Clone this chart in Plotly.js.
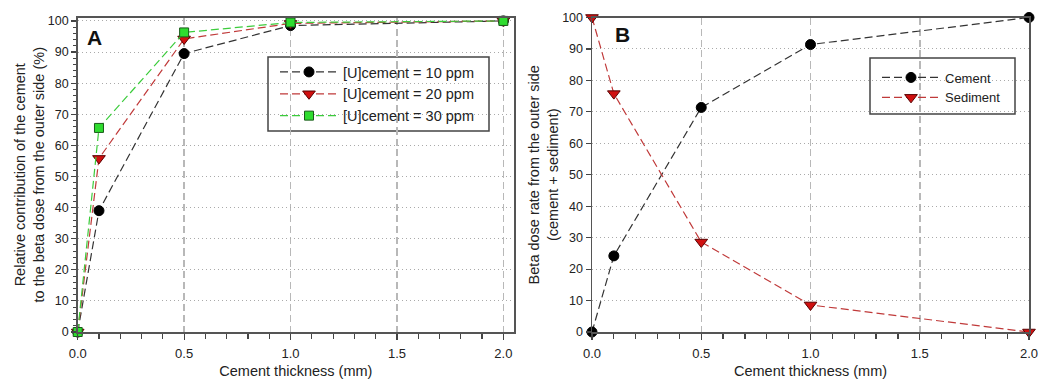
<!DOCTYPE html>
<html><head><meta charset="utf-8">
<script src="https://cdn.plot.ly/plotly-3.0.1.min.js"></script>
<style>html,body{margin:0;padding:0;background:#fff}#chart{width:1040px;height:380px}</style>
</head><body><div id="chart"></div>
<script>
// Panel A data
const thicknessA = [0, 0.1, 0.5, 1.0, 2.0];
const u10 = [0, 39, 89.5, 98.5, 100];
const u20 = [0, 55.8, 94.2, 99.2, 100];
const u30 = [0, 65.6, 96.3, 99.5, 100];
const namesA = ["[U]cement = 10 ppm", "[U]cement = 20 ppm", "[U]cement = 30 ppm"];
// Panel B data
const thicknessB = [0, 0.1, 0.5, 1.0, 2.0];
const cement = [0, 24.2, 71.4, 91.4, 100];
const sediment = [100, 75.8, 28.6, 8.6, 0];
const namesB = ["Cement", "Sediment"];
const xTitle = "Cement thickness (mm)";
const yTitleA = "Relative contribution of the cement<br>to the beta dose from the outer side (%)";
const yTitleB = "Beta dose rate from the outer side<br>(cement + sediment)";

const FONT = "Liberation Sans, Arial, sans-serif";
const dashLine = "8px,4px";
const blackM = {symbol:"circle", size:10, color:"#000", line:{color:"#000", width:1}};
const redM = {symbol:"triangle-down", size:11, color:"#d01010", line:{color:"#5a0000", width:1}};
const greenM = {symbol:"square", size:9, color:"#2fdc2f", line:{color:"#1a5a1a", width:1}};

const traces = [
  {x:thicknessA, y:u10, name:namesA[0], mode:"lines+markers", xaxis:"x", yaxis:"y", legend:"legend",
   line:{color:"#333", width:1.2, dash:dashLine}, marker:blackM, cliponaxis:false},
  {x:thicknessA, y:u20, name:namesA[1], mode:"lines+markers", xaxis:"x", yaxis:"y", legend:"legend",
   line:{color:"#c03a3a", width:1.2, dash:dashLine}, marker:redM, cliponaxis:false},
  {x:thicknessA, y:u30, name:namesA[2], mode:"lines+markers", xaxis:"x", yaxis:"y", legend:"legend",
   line:{color:"#3ccc3c", width:1.2, dash:dashLine}, marker:greenM, cliponaxis:false},
  {x:thicknessB, y:cement, name:namesB[0], mode:"lines+markers", xaxis:"x2", yaxis:"y2", legend:"legend2",
   line:{color:"#333", width:1.2, dash:dashLine}, marker:blackM, cliponaxis:false},
  {x:thicknessB, y:sediment, name:namesB[1], mode:"lines+markers", xaxis:"x2", yaxis:"y2", legend:"legend2",
   line:{color:"#c03a3a", width:1.2, dash:dashLine}, marker:redM, cliponaxis:false}
];

function xax(domain, range, anchor){
  return {domain:domain, range:range, anchor:anchor, tickmode:"linear", tick0:0, dtick:0.5,
    tickformat:".1f", ticks:"outside", ticklen:6, tickcolor:"#444", tickwidth:1.2, ticklabelstandoff:3,
    minor:{dtick:0.1, tick0:0, ticks:"outside", ticklen:5, tickcolor:"#444", tickwidth:1.2, showgrid:false},
    showline:true, linecolor:"#555", linewidth:1.5, mirror:true, zeroline:false,
    showgrid:true, gridcolor:"#b8b8b8", gridwidth:1.5, griddash:"7px,4px",
    tickfont:{family:FONT, size:13, color:"#222"},
    title:{text:xTitle, font:{family:FONT, size:14.5, color:"#222"}, standoff:6}};
}
function yax(domain, range, anchor, title, minor){
  const a = {domain:domain, range:range, anchor:anchor, tickmode:"linear", tick0:0, dtick:10,
    ticks:"outside", ticklen:5, tickcolor:"#444", tickwidth:1.2,
    showline:true, linecolor:"#555", linewidth:1.5, mirror:true, zeroline:false,
    showgrid:true, gridcolor:"#aaaaaa", gridwidth:1, griddash:"1px,3px",
    tickfont:{family:FONT, size:12.5, color:"#222"},
    title:{text:title, font:{family:FONT, size:14.5, color:"#222"}, standoff:0}};
  if (minor) a.minor = {dtick:2, tick0:0, ticks:"outside", ticklen:3, tickcolor:"#444", tickwidth:1, showgrid:false};
  return a;
}
const ydom = [1-332/380, 1-17.5/380];
const layout = {
  width:1040, height:380, margin:{l:0, r:0, t:0, b:0},
  paper_bgcolor:"#fff", plot_bgcolor:"#fff",
  xaxis: xax([77.7/1040, 514/1040], [0, 2.05], "y"),
  yaxis: yax(ydom, [0, 101.1], "x", yTitleA, true),
  xaxis2: xax([592/1040, 1029/1040], [0, 2.0], "y2"),
  yaxis2: yax(ydom, [0, 100], "x2", yTitleB, false),
  showlegend:true,
  legend:{x:275/1040, y:1-56/380, xanchor:"left", yanchor:"top", bgcolor:"rgba(0,0,0,0)", borderwidth:0,
    itemwidth:58, font:{family:FONT, size:14.5, color:"#222"}, tracegroupgap:0},
  legend2:{x:877/1040, y:1-62.5/380, xanchor:"left", yanchor:"top", bgcolor:"rgba(0,0,0,0)", borderwidth:0,
    itemwidth:58, font:{family:FONT, size:13, color:"#222"}, tracegroupgap:0},
  shapes:[
    {type:"rect", xref:"paper", yref:"paper", x0:268/1040, x1:489/1040, y0:1-131/380, y1:1-57/380,
     line:{color:"#444", width:1.5}, fillcolor:"rgba(255,255,255,1)", layer:"below"},
    {type:"rect", xref:"paper", yref:"paper", x0:870/1040, x1:1015/1040, y0:1-114/380, y1:1-58/380,
     line:{color:"#444", width:1.5}, fillcolor:"rgba(255,255,255,1)", layer:"below"}
  ],
  annotations:[
    {text:"<b>A</b>", xref:"x domain", yref:"y domain", x:0.017, y:0.935, xanchor:"left", yanchor:"middle",
     showarrow:false, font:{family:FONT, size:21, color:"#111"}},
    {text:"<b>B</b>", xref:"x2 domain", yref:"y2 domain", x:0.048, y:0.9475, xanchor:"left", yanchor:"middle",
     showarrow:false, font:{family:FONT, size:21, color:"#111"}}
  ]
};
Plotly.newPlot("chart", traces, layout, {displayModeBar:false, staticPlot:true});
</script></body></html>
